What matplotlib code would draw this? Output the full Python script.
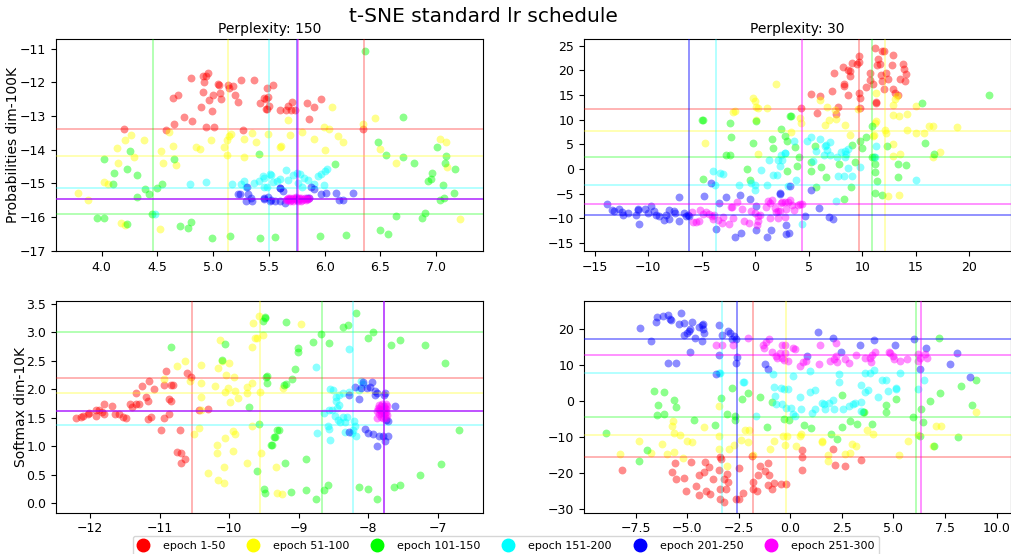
import matplotlib
matplotlib.use('Agg')
import matplotlib.pyplot as plt
from matplotlib.lines import Line2D
import numpy as np

# epoch groups and their colours
groups = ['epoch 1-50', 'epoch 51-100', 'epoch 101-150', 'epoch 151-200', 'epoch 201-250', 'epoch 251-300']
colors = ['red', 'yellow', 'lime', 'cyan', 'blue', 'magenta']

# ---- Perplexity 150, Probabilities dim-100K ----
p1_red = [(4.20, -13.38), (4.58, -13.41), (4.65, -13.25), (4.74, -13.02), (4.81, -13.14), (4.64, -12.46),
          (4.68, -12.38), (4.80, -11.86), (4.89, -12.72), (4.91, -11.82), (4.94, -11.80), (4.95, -11.72),
          (4.92, -12.00), (4.91, -12.28), (4.94, -13.34), (4.96, -12.53), (4.99, -12.86), (5.00, -12.37),
          (5.01, -13.33), (5.04, -12.04), (5.05, -12.08), (5.06, -12.31), (5.07, -12.49), (5.13, -12.07),
          (5.14, -12.17), (5.18, -12.10), (5.20, -12.37), (5.22, -12.58), (5.25, -11.92), (5.27, -13.41),
          (5.37, -11.93), (5.42, -12.61), (5.47, -12.49), (5.48, -12.78), (5.50, -12.70), (5.54, -12.07),
          (5.60, -12.81), (5.48, -12.17), (5.46, -12.47), (5.49, -12.45), (5.47, -12.79), (5.65, -12.81),
          (5.67, -12.71), (5.71, -12.57), (5.70, -12.81), (5.73, -12.82), (5.84, -12.61), (5.90, -12.72),
          (5.97, -12.50), (5.86, -13.09), (6.34, -13.37)]
p1_yellow = [(3.79, -15.27), (3.88, -15.50), (4.02, -14.97), (4.06, -15.01), (4.14, -13.95), (4.15, -14.39),
             (4.21, -13.70), (4.26, -13.55), (4.29, -14.22), (4.38, -13.70), (4.17, -16.16), (4.21, -16.23),
             (4.52, -16.35), (4.53, -14.05), (4.55, -14.38), (4.64, -13.88), (4.67, -14.44), (4.60, -13.46),
             (4.85, -13.92), (4.88, -13.97), (4.98, -13.70), (5.10, -13.93), (5.12, -13.70), (5.14, -13.60),
             (5.16, -13.52), (5.12, -14.16), (5.28, -13.68), (5.28, -14.22), (5.35, -13.50), (5.38, -13.77),
             (5.60, -13.92), (5.49, -13.53), (5.61, -13.90), (5.67, -13.11), (5.69, -13.55), (5.80, -13.48),
             (5.90, -13.67), (5.99, -13.34), (6.00, -14.01), (6.04, -13.39), (6.07, -12.74), (6.12, -13.58),
             (6.16, -13.77), (6.34, -13.23), (6.45, -13.06), (6.50, -13.97), (6.64, -14.40), (7.03, -13.68),
             (7.09, -13.76), (7.10, -14.52), (7.21, -16.05)]
p1_green = [(4.02, -14.27), (3.96, -16.03), (4.02, -16.01), (4.10, -15.02), (4.11, -14.69), (4.23, -14.57),
            (4.25, -14.05), (4.32, -14.76), (4.32, -15.41), (4.39, -15.16), (4.42, -15.31), (4.45, -15.89),
            (4.23, -16.21), (4.50, -15.12), (4.54, -15.02), (4.65, -14.28), (4.70, -16.25), (4.77, -16.32),
            (4.80, -16.14), (4.99, -16.61), (5.15, -16.57), (5.41, -14.13), (5.42, -16.62), (5.55, -16.59),
            (6.36, -11.08), (6.70, -13.04), (6.48, -13.77), (6.55, -14.17), (6.70, -14.21), (6.80, -14.38),
            (6.09, -14.43), (6.96, -14.69), (6.93, -14.94), (6.95, -14.87), (7.01, -13.92), (7.09, -14.18),
            (7.08, -14.40), (7.17, -14.57), (7.06, -15.04), (7.16, -15.29), (7.03, -15.49), (7.07, -15.44),
            (6.90, -15.86), (6.87, -16.03), (6.64, -15.96), (6.50, -16.39), (6.57, -16.50), (5.96, -16.55),
            (6.19, -16.52)]
p1_cyan = [(4.48, -15.90), (4.79, -15.01), (4.94, -14.95), (5.17, -15.02), (5.25, -15.02), (5.28, -14.92),
           (5.37, -14.99), (5.41, -14.94), (5.46, -14.84), (5.52, -14.74), (5.57, -14.94), (5.46, -15.09),
           (5.29, -15.09), (5.45, -14.79), (5.51, -14.72), (5.54, -14.95), (5.60, -14.86), (5.65, -14.59),
           (5.67, -14.89), (5.72, -14.76), (5.75, -14.69), (5.78, -14.71), (5.81, -14.84), (5.85, -14.91),
           (5.80, -15.09), (5.90, -15.01), (5.94, -14.79), (5.97, -14.72), (6.00, -14.64), (6.02, -14.56),
           (5.99, -15.05), (5.48, -15.09), (5.76, -14.99)]
p1_blue = [(5.22, -15.31), (5.24, -15.32), (5.30, -15.09), (5.31, -15.32), (5.34, -15.44), (5.29, -15.53),
           (5.35, -15.51), (5.46, -15.47), (5.49, -15.39), (5.52, -15.49), (5.55, -15.53), (5.60, -15.14),
           (5.46, -15.44), (5.51, -15.51), (5.60, -15.12), (5.63, -15.21), (5.60, -15.53), (5.64, -15.58),
           (5.88, -15.09), (5.90, -15.15), (5.97, -15.32), (6.01, -15.28), (6.10, -15.28), (6.13, -15.49),
           (6.16, -15.49), (6.25, -15.27), (5.84, -15.44), (5.86, -15.42)]
p1_magenta = [(5.65, -15.48), (5.66, -15.45), (5.67, -15.50), (5.68, -15.47), (5.69, -15.44), (5.70, -15.49),
              (5.71, -15.46), (5.72, -15.43), (5.72, -15.51), (5.73, -15.47), (5.74, -15.44), (5.75, -15.49),
              (5.76, -15.45), (5.76, -15.52), (5.77, -15.42), (5.78, -15.47), (5.79, -15.44), (5.80, -15.50),
              (5.81, -15.46), (5.82, -15.43), (5.83, -15.48), (5.84, -15.45), (5.85, -15.47), (5.69, -15.52),
              (5.74, -15.41), (5.79, -15.51), (5.67, -15.43), (5.86, -15.44)]
p1_mean_x = [6.35, 5.13, 4.46, 5.50, 5.75, 5.76]
p1_mean_y = [-13.38, -14.18, -15.91, -15.13, -15.46, -15.46]

# ---- Perplexity 30, Probabilities dim-100K ----
p2_red = [(5.18, 15.26), (6.02, 14.78), (4.27, 12.41), (5.80, 11.27), (7.14, 15.73), (7.33, 19.45),
          (7.74, 12.62), (7.58, 11.06), (8.20, 20.60), (8.30, 17.29), (8.30, 16.81), (8.67, 20.06),
          (8.83, 19.86), (8.89, 18.84), (8.67, 14.92), (9.05, 21.55), (9.55, 21.21), (9.71, 21.75),
          (9.67, 22.90), (9.67, 15.46), (9.83, 14.45), (9.77, 12.28), (10.33, 16.61), (10.77, 19.52),
          (10.77, 18.03), (11.02, 17.29), (11.17, 24.53), (11.48, 22.23), (11.39, 21.08), (11.64, 21.35),
          (11.89, 23.92), (12.01, 23.92), (11.80, 18.98), (11.89, 17.83), (12.20, 19.52), (12.42, 18.17),
          (12.01, 16.14), (12.83, 23.11), (12.79, 21.14), (12.89, 16.14), (13.04, 15.46), (13.36, 14.99),
          (13.51, 18.17), (13.82, 21.35), (13.89, 20.33), (14.05, 19.18), (13.98, 17.83), (11.26, 13.57),
          (11.33, 13.30)]
p2_yellow = [(1.94, 17.22), (-0.22, 14.31), (0.03, 13.77), (0.09, 12.62), (0.31, 12.41), (1.09, 12.28),
             (-2.09, 11.60), (-1.87, 11.67), (0.09, 9.91), (-4.65, 5.18), (0.28, 3.08), (3.37, 7.48),
             (6.02, 13.90), (6.74, 12.62), (7.49, 11.87), (6.90, 9.91), (6.55, 8.90), (8.39, 8.83),
             (8.83, 6.87), (7.58, 10.05), (9.61, 12.21), (11.08, 6.80), (11.33, 9.71), (11.23, 9.37),
             (12.14, 7.88), (12.20, 7.34), (11.33, 15.33), (12.83, 10.99), (13.45, 10.72), (13.04, 14.11),
             (13.26, 14.78), (12.89, 12.89), (14.23, 11.06), (14.23, 7.88), (15.01, 7.34), (15.07, 12.75),
             (15.76, 7.21), (16.23, 8.69), (16.63, 8.69), (18.88, 8.56), (17.26, 3.48), (16.57, 2.40),
             (12.89, 5.11), (12.89, 2.74), (13.51, 3.08), (12.45, -5.51), (13.45, -5.31), (11.02, 6.66),
             (4.15, 10.39), (4.31, 9.24)]
p2_green = [(-4.99, 9.91), (-4.90, 9.91), (-2.37, 9.24), (-2.28, 6.53), (-2.72, 2.94), (-2.34, 2.94),
            (-4.84, -2.06), (-0.78, 0.11), (-0.53, -2.32), (-0.22, 5.18), (0.09, 9.64), (1.59, 6.12),
            (1.66, 4.30), (2.43, 8.02), (2.75, 6.66), (3.00, 5.65), (3.00, -0.44), (3.21, 10.72),
            (3.37, 10.72), (3.74, 4.43), (4.09, 2.47), (3.90, 0.57), (5.62, 4.63), (5.24, 1.45),
            (5.24, -0.44), (6.11, 0.37), (6.65, -1.66), (5.71, -3.69), (7.83, 1.05), (8.30, -6.06),
            (8.99, -3.62), (9.08, 4.97), (9.30, 1.52), (9.77, 5.65), (9.98, 4.30), (10.33, 6.46),
            (10.95, 8.69), (10.92, 2.47), (11.11, 2.40), (11.17, 1.05), (11.23, -0.64), (11.42, -2.47),
            (11.20, -4.84), (11.89, -5.31), (12.33, 4.77), (13.36, 1.12), (14.05, 0.91), (13.36, -1.66),
            (15.63, 13.30), (15.91, 5.31), (16.70, 3.15), (21.85, 15.05)]
p2_cyan = [(-3.90, -0.30), (-3.25, -0.84), (-3.03, -0.98), (-3.75, -3.28), (-1.53, -3.15), (-0.37, -2.88),
           (0.00, -3.15), (0.00, -4.16), (0.50, -0.10), (1.09, -3.28), (1.28, 1.79), (1.66, -1.25),
           (2.03, -1.25), (2.12, 1.79), (2.28, 0.57), (2.43, 2.94), (2.53, 1.93), (2.81, 3.28),
           (3.06, -3.35), (2.74, 3.28), (3.62, 5.78), (3.77, -2.13), (4.84, 5.78), (5.24, 6.46),
           (6.08, 5.99), (5.65, 3.62), (6.49, 4.63), (6.96, 5.51), (6.58, 4.97), (6.71, 3.96),
           (6.40, 2.81), (7.02, 2.81), (7.65, 2.47), (8.05, 3.42), (8.36, 3.62), (8.67, 4.16),
           (8.52, 3.15), (8.42, 2.47), (8.67, 0.24), (9.08, -1.45), (8.30, -1.45), (7.74, -1.32),
           (9.77, 0.37), (11.26, 4.77), (11.20, 2.40), (7.58, -6.39), (4.40, -11.13), (15.07, -2.13),
           (5.40, 1.59)]
p2_blue = [(-13.80, -7.14), (-13.39, -8.22), (-13.17, -8.42), (-12.70, -8.02), (-12.45, -8.69), (-12.39, -9.24),
           (-11.92, -8.83), (-11.14, -9.24), (-10.99, -8.36), (-10.99, -8.09), (-10.83, -11.06), (-10.30, -8.09),
           (-10.05, -8.90), (-9.74, -7.54), (-9.43, -8.42), (-9.27, -9.24), (-8.96, -9.58), (-8.49, -10.25),
           (-8.33, -9.24), (-8.08, -8.22), (-8.02, -10.05), (-7.55, -8.42), (-7.46, -8.90), (-7.08, -5.72),
           (-7.08, -10.45), (-6.62, -8.90), (-6.46, -9.44), (-6.30, -9.24), (-6.15, -9.58), (-4.81, -5.51),
           (-4.12, -2.81), (-3.65, -12.08), (-3.34, -6.87), (-2.72, -5.65), (-1.84, -13.77), (-1.40, -5.24),
           (-1.31, -12.96), (-0.47, -5.99), (0.09, -12.28), (0.09, -7.54), (1.12, -13.77), (1.50, -12.42),
           (2.28, -4.97), (2.90, -13.16), (3.21, -3.35), (2.34, -4.84), (5.24, -4.30), (5.96, -7.88),
           (4.62, -9.58), (6.90, -9.71), (7.27, -10.05), (2.90, -11.40), (3.15, -12.96)]
p2_magenta = [(-5.93, -8.76), (-5.84, -10.79), (-5.52, -10.79), (-5.21, -10.59), (-5.12, -8.22), (-4.90, -9.03),
              (-4.59, -8.76), (-4.34, -9.10), (-4.03, -9.44), (-3.90, -10.05), (-3.81, -9.24), (-3.50, -10.25),
              (-3.12, -10.93), (-2.97, -9.78), (-2.40, -11.06), (-2.28, -7.75), (-2.12, -7.75), (-2.06, -9.91),
              (-1.72, -6.73), (-1.22, -8.02), (-1.00, -10.59), (-0.62, -10.93), (-0.37, -8.56), (0.03, -8.90),
              (0.16, -11.27), (0.31, -10.45), (0.47, -9.24), (0.31, -9.58), (1.03, -7.68), (1.19, -6.53),
              (1.40, -6.87), (1.56, -6.19), (1.81, -7.88), (1.90, -8.76), (2.12, -8.56), (2.43, -6.87),
              (2.53, -6.73), (1.40, -9.91), (2.12, -9.91), (3.06, -6.73), (2.74, -6.73), (3.21, -6.19),
              (3.43, -7.21), (3.62, -8.22), (4.00, -7.21), (4.21, -7.00), (4.40, -7.07), (2.90, -8.09),
              (2.74, -9.78), (2.28, -8.56)]
p2_mean_x = [9.7, 12.1, 10.9, -3.7, -6.2, 4.4]
p2_mean_y = [12.08, 7.61, 2.54, -3.28, -9.37, -7.14]

# ---- Perplexity 150, Softmax dim-10K ----
p3_red = [(-12.20, 1.50), (-12.13, 1.52), (-12.10, 1.53), (-12.03, 1.57), (-12.02, 1.58), (-11.91, 1.53),
          (-11.91, 1.63), (-11.87, 1.63), (-11.83, 1.60), (-11.80, 1.57), (-11.80, 1.74), (-11.68, 1.71),
          (-11.64, 1.57), (-11.58, 1.57), (-11.52, 1.52), (-11.49, 1.50), (-11.43, 1.74), (-11.40, 1.69),
          (-11.34, 1.93), (-11.34, 1.74), (-11.30, 1.74), (-11.25, 2.06), (-11.20, 1.86), (-11.15, 2.14),
          (-11.16, 1.80), (-11.17, 1.48), (-11.12, 1.52), (-11.08, 2.01), (-10.98, 1.29), (-10.93, 1.49),
          (-10.93, 2.07), (-10.91, 2.32), (-10.87, 1.56), (-10.86, 1.83), (-10.83, 1.80), (-10.84, 2.07),
          (-10.81, 2.07), (-10.75, 0.90), (-10.69, 0.89), (-10.69, 0.70), (-10.70, 1.29), (-10.63, 0.77),
          (-10.60, 2.29), (-10.55, 2.21), (-10.30, 1.65), (-10.44, 1.63)]
p3_yellow = [(-10.94, 2.18), (-10.75, 2.41), (-10.64, 2.50), (-10.56, 2.15), (-10.51, 1.21), (-10.41, 1.63),
             (-10.40, 2.43), (-10.41, 1.86), (-10.43, 1.33), (-10.40, 2.12), (-10.31, 0.53), (-10.20, 2.06),
             (-10.18, 1.02), (-10.17, 0.88), (-10.16, 2.37), (-10.13, 2.86), (-10.10, 2.50), (-10.08, 0.64),
             (-10.07, 0.36), (-10.16, 0.41), (-10.06, 1.14), (-10.05, 2.25), (-10.02, 2.02), (-10.06, 1.95),
             (-10.00, 2.46), (-9.99, 1.78), (-9.95, 0.91), (-9.95, 1.27), (-9.93, 2.21), (-9.92, 1.22),
             (-9.91, 1.97), (-9.87, 1.85), (-9.75, 2.04), (-9.74, 1.93), (-9.74, 0.71), (-9.67, 2.12),
             (-9.67, 1.36), (-9.67, 2.75), (-9.66, 3.17), (-9.63, 2.90), (-9.60, 2.91), (-9.57, 3.28),
             (-9.56, 1.96), (-9.54, 0.88), (-9.51, 2.95), (-9.33, 0.64), (-9.31, 0.18), (-9.23, 2.03),
             (-8.97, 3.14), (-9.24, 0.16)]
p3_green = [(-10.84, 2.74), (-10.10, 2.52), (-10.06, 2.79), (-9.72, 1.69), (-9.60, 0.57), (-9.57, 1.40),
            (-9.52, 3.20), (-9.49, 3.25), (-9.48, 3.27), (-9.46, 2.24), (-9.45, 2.11), (-9.50, 0.25),
            (-9.48, 0.18), (-9.40, 1.02), (-9.36, 1.17), (-9.31, 1.28), (-9.18, 3.19), (-8.68, 2.97),
            (-8.80, 2.83), (-8.57, 2.81), (-9.01, 2.72), (-9.01, 2.66), (-9.06, 2.35), (-9.09, 2.19),
            (-9.18, 2.09), (-9.21, 2.08), (-9.47, 2.21), (-9.28, 1.28), (-9.34, 1.17), (-9.39, 1.02),
            (-9.19, 0.70), (-8.90, 0.78), (-9.11, 0.20), (-8.90, 0.23), (-8.75, 0.08), (-8.64, 0.23),
            (-8.58, 0.32), (-8.37, 3.10), (-8.29, 3.13), (-8.17, 3.34), (-8.01, 2.90), (-7.93, 3.00),
            (-7.68, 2.78), (-7.55, 2.87), (-7.19, 2.78), (-6.90, 2.46), (-6.69, 1.29), (-6.95, 0.69),
            (-7.26, 0.50), (-7.63, 0.29), (-7.55, 0.33), (-8.13, 0.29), (-8.00, 0.25), (-7.88, 0.07)]
p3_cyan = [(-8.27, 2.71), (-8.75, 2.40), (-8.55, 2.01), (-8.50, 1.99), (-8.46, 1.87), (-8.42, 1.91),
           (-8.37, 1.93), (-8.28, 1.96), (-8.47, 1.80), (-8.42, 1.73), (-8.45, 1.67), (-8.57, 1.64),
           (-8.63, 1.59), (-8.52, 1.63), (-8.48, 1.54), (-8.44, 1.46), (-8.41, 1.43), (-8.37, 1.52),
           (-8.31, 1.52), (-8.33, 1.42), (-8.20, 1.45), (-8.19, 1.36), (-8.22, 1.29), (-8.34, 1.25),
           (-8.24, 1.23), (-8.18, 1.19), (-8.58, 1.36), (-8.56, 1.30), (-8.73, 1.24), (-8.55, 1.12),
           (-8.11, 2.15), (-8.08, 2.09), (-8.13, 1.99)]
p3_blue = [(-8.19, 2.04), (-8.11, 2.02), (-8.07, 2.13), (-8.02, 2.03), (-7.94, 2.13), (-7.97, 2.05),
           (-7.90, 1.98), (-7.88, 1.93), (-7.91, 1.90), (-7.78, 1.91), (-7.76, 1.93), (-8.27, 1.90),
           (-8.14, 1.83), (-7.61, 1.70), (-7.72, 1.45), (-7.75, 1.46), (-8.28, 1.26), (-8.04, 1.30),
           (-8.01, 1.24), (-7.93, 1.22), (-7.84, 1.18), (-7.79, 1.18), (-7.72, 1.18), (-7.76, 1.09),
           (-7.87, 1.01)]
p3_magenta = [(-7.88, 1.62), (-7.86, 1.68), (-7.85, 1.56), (-7.84, 1.72), (-7.83, 1.64), (-7.82, 1.58),
              (-7.81, 1.70), (-7.80, 1.75), (-7.80, 1.60), (-7.79, 1.66), (-7.78, 1.53), (-7.78, 1.71),
              (-7.77, 1.63), (-7.76, 1.68), (-7.76, 1.57), (-7.75, 1.74), (-7.75, 1.61), (-7.74, 1.65),
              (-7.73, 1.55), (-7.73, 1.70), (-7.82, 1.52), (-7.87, 1.50), (-7.79, 1.49), (-7.84, 1.66),
              (-7.77, 1.59), (-7.81, 1.63), (-7.74, 1.50)]
p3_mean_x = [-10.53, -9.56, -8.67, -8.22, -7.78, -7.78]
p3_mean_y = [2.20, 1.94, 3.00, 1.37, 1.62, 1.62]

# ---- Perplexity 30, Softmax dim-10K ----
p4_red = [(-8.16, -19.17), (-5.58, -17.13), (-5.73, -19.72), (-5.56, -21.48), (-5.13, -21.30), (-5.05, -24.81),
          (-4.81, -16.85), (-4.56, -23.61), (-4.44, -20.37), (-4.40, -26.11), (-4.16, -19.72), (-4.11, -16.85),
          (-4.08, -24.81), (-3.92, -18.33), (-3.87, -25.74), (-3.76, -21.48), (-3.44, -18.98), (-3.39, -15.56),
          (-3.35, -15.93), (-3.39, -24.26), (-3.39, -27.13), (-3.23, -27.96), (-3.19, -21.48), (-3.11, -24.26),
          (-3.06, -20.19), (-3.00, -22.50), (-2.63, -27.13), (-2.47, -27.13), (-2.47, -18.52), (-2.27, -25.46),
          (-1.85, -15.28), (-1.82, -22.50), (-1.79, -24.35), (-1.60, -24.81), (-1.58, -20.37), (-1.45, -18.06),
          (-1.23, -19.44), (-1.10, -17.13), (-1.10, -23.33), (-1.02, -20.37), (-0.90, -24.26), (-0.77, -22.68),
          (-0.45, -22.87), (-0.20, -22.96), (0.58, -13.43), (0.58, -15.56), (0.58, -18.98), (2.05, -13.24),
          (2.15, -17.78), (2.65, -18.06), (3.41, -16.20)]
p4_yellow = [(-7.34, -10.93), (-8.27, -14.54), (-6.74, -14.35), (-6.21, -11.76), (-5.97, -14.54), (-5.74, -6.76),
             (-5.69, -5.56), (-5.65, -8.80), (-5.61, -14.17), (-5.34, -9.44), (-5.21, -15.74), (-5.02, -11.11),
             (-4.77, -11.39), (-4.19, -7.22), (-3.47, -1.39), (-3.47, -9.54), (-3.44, -13.24), (-3.08, -18.06),
             (-2.95, -13.24), (-2.74, -12.04), (-2.39, -10.65), (-2.18, -7.87), (-1.98, -8.06), (-2.03, -11.30),
             (-1.82, -15.00), (-0.98, -13.24), (-0.81, -10.93), (-0.37, -9.54), (-0.15, -9.54), (-0.27, -12.22),
             (0.27, -12.31), (0.45, -9.72), (0.53, -8.98), (1.52, -11.30), (1.56, -10.93), (1.85, -15.00),
             (1.85, -16.67), (2.65, -14.54), (2.91, -14.35), (2.98, -11.85), (3.18, -12.50), (3.71, -7.87),
             (4.00, -9.07), (5.27, -15.00), (5.71, -10.93), (6.18, -9.44), (7.05, -6.76), (7.30, -6.76),
             (6.92, -12.50), (9.02, -2.96)]
p4_green = [(-8.95, -8.80), (-7.31, -16.48), (-6.94, -13.43), (-6.61, 2.78), (-6.42, -1.20), (-6.45, -3.89),
            (-6.13, -3.70), (-6.10, 2.59), (-5.65, 0.28), (-5.53, -1.57), (-4.68, -5.09), (-3.63, -6.48),
            (-3.35, 0.93), (-3.08, -3.43), (-2.84, 3.52), (-2.68, -4.17), (-2.66, -5.09), (-2.35, 0.46),
            (-2.03, 2.13), (-1.47, 1.11), (-1.13, -7.22), (-0.89, -0.19), (-0.32, -4.91), (-0.08, -5.09),
            (0.68, -6.48), (1.02, -7.41), (1.97, -9.07), (2.27, -10.46), (2.50, -7.22), (2.53, 1.57),
            (2.92, -5.37), (3.26, -6.20), (3.52, -2.96), (3.59, -3.06), (3.94, -6.20), (4.65, -1.20),
            (4.62, -3.06), (5.12, 0.46), (5.94, -4.44), (6.33, -2.31), (6.44, -5.74), (6.29, -9.72),
            (6.79, 0.00), (7.27, 2.13), (7.20, 17.41), (6.97, -12.50), (8.11, -9.91), (8.29, 4.17),
            (8.79, -1.11), (8.98, 5.83)]
p4_cyan = [(-3.44, 7.69), (-3.39, 7.87), (-1.66, -4.17), (-2.31, 5.37), (-2.23, 5.28), (-0.85, 7.41),
           (-0.81, 3.89), (-0.76, 1.39), (-0.68, -0.93), (-0.32, 3.24), (-0.19, -1.85), (-0.45, 3.70),
           (-0.12, 3.24), (-0.38, -0.93), (0.03, -1.85), (0.12, -3.70), (0.23, -4.17), (0.15, 6.94),
           (0.98, 8.43), (0.45, 1.20), (0.53, -2.13), (0.95, 2.59), (1.21, 3.06), (1.06, -3.24),
           (1.18, -2.31), (1.56, -0.46), (1.62, -0.93), (1.67, -2.31), (1.89, -0.46), (2.05, 0.28),
           (2.12, -2.31), (2.35, 7.59), (2.35, 5.28), (2.58, -2.13), (2.85, -1.39), (3.06, -0.93),
           (3.14, -0.46), (3.41, -0.19), (3.45, 4.35), (3.61, 2.50), (3.79, 2.96), (3.45, -2.78),
           (3.64, 7.87), (3.86, 7.87), (4.06, 8.61), (4.24, 1.20), (4.47, 5.83), (4.62, 5.83),
           (4.73, 2.78), (5.12, 3.70), (5.15, 3.24), (5.30, 7.69), (6.21, 3.43), (6.47, 5.83)]
p4_blue = [(-7.26, 20.19), (-6.74, 16.67), (-6.50, 22.04), (-6.47, 23.24), (-6.18, 23.61), (-5.94, 23.89),
           (-5.85, 22.69), (-5.77, 22.50), (-5.94, 10.46), (-5.53, 10.65), (-5.40, 21.30), (-5.29, 24.54),
           (-5.13, 21.57), (-5.13, 18.24), (-5.00, 18.80), (-4.92, 19.44), (-4.84, 19.91), (-4.76, 22.04),
           (-4.85, 13.70), (-4.60, 17.59), (-4.44, 20.65), (-4.29, 21.02), (-4.24, 19.91), (-4.27, 16.67),
           (-4.19, 18.98), (-4.21, 21.30), (-3.60, 7.59), (-3.44, 21.02), (-3.44, 12.69), (-3.32, 18.33),
           (-3.03, 19.44), (-2.92, 18.80), (-2.82, 17.13), (-2.71, 18.06), (-2.63, 17.31), (-2.63, 10.46),
           (-2.56, 12.22), (-1.23, 10.37), (-1.06, 8.80), (1.36, 19.26), (2.09, 17.41), (0.80, 12.50),
           (2.47, 13.70), (3.36, 15.46), (4.06, 16.94), (5.08, 15.46), (6.02, 17.31), (6.29, 8.80),
           (6.59, 14.63), (7.73, 10.37), (8.08, 13.43), (8.71, 6.76)]
p4_magenta = [(-3.60, 15.56), (-3.31, 15.56), (-2.77, 15.56), (-2.03, 17.59), (-1.31, 15.46), (-1.26, 14.63),
              (-1.02, 17.31), (-1.18, 16.48), (-0.89, 13.61), (-0.69, 12.50), (-0.66, 11.85), (-0.50, 13.43),
              (-0.40, 15.56), (-0.32, 11.30), (-0.23, 15.46), (-0.27, 13.43), (-0.38, 11.85), (-0.12, 11.11),
              (0.15, 14.63), (0.23, 14.35), (0.48, 9.72), (0.61, 10.83), (0.76, 11.11), (1.44, 15.56),
              (1.41, 10.19), (1.94, 11.11), (2.12, 11.57), (2.23, 16.02), (2.20, 12.50), (2.27, 10.93),
              (2.65, 11.57), (2.85, 10.46), (3.18, 12.69), (3.64, 12.04), (3.86, 12.04), (3.91, 10.93),
              (4.09, 13.61), (3.97, 12.78), (4.77, 13.61), (4.85, 13.24), (4.97, 12.50), (5.03, 11.57),
              (5.33, 11.11), (5.65, 11.57), (6.18, 13.15), (6.21, 11.11), (6.29, 12.04), (6.52, 13.15),
              (6.64, 11.85)]
p4_mean_x = [-1.8, -0.2, 6.1, -3.3, -2.6, 6.35]
p4_mean_y = [-15.5, -9.5, -4.4, 7.7, 17.1, 12.7]

fig = plt.figure(figsize=(10.12, 5.54), dpi=100)
fig.suptitle('t-SNE standard lr schedule', fontsize=14.5, x=0.478, y=0.987, va='top')

panels = [
    dict(pos=[0.0553, 0.547, 0.422, 0.383], pts=[p1_red, p1_yellow, p1_green, p1_cyan, p1_blue, p1_magenta],
         mx=p1_mean_x, my=p1_mean_y, xlim=(3.59, 7.42), ylim=(-17.0, -10.71),
         xt=np.arange(4.0, 7.01, 0.5), yt=np.arange(-17, -10.9, 1), title='Perplexity: 150',
         ylabel='Probabilities dim-100K', lpad=0.0, xfmt='%.1f', yfmt='%d'),
    dict(pos=[0.577, 0.547, 0.422, 0.383], pts=[p2_red, p2_yellow, p2_green, p2_cyan, p2_blue, p2_magenta],
         mx=p2_mean_x, my=p2_mean_y, xlim=(-16.0, 23.9), ylim=(-16.6, 26.4),
         xt=np.arange(-15, 21, 5), yt=np.arange(-15, 26, 5), title='Perplexity: 30',
         ylabel=None, lpad=0, xfmt='%d', yfmt='%d'),
    dict(pos=[0.0553, 0.0745, 0.422, 0.382], pts=[p3_red, p3_yellow, p3_green, p3_cyan, p3_blue, p3_magenta],
         mx=p3_mean_x, my=p3_mean_y, xlim=(-12.49, -6.35), ylim=(-0.165, 3.55),
         xt=np.arange(-12, -6.9, 1), yt=np.arange(0, 3.51, 0.5), title=None,
         ylabel='Softmax dim-10K', lpad=-1.0, xfmt='%d', yfmt='%.1f'),
    dict(pos=[0.577, 0.0745, 0.422, 0.382], pts=[p4_red, p4_yellow, p4_green, p4_cyan, p4_blue, p4_magenta],
         mx=p4_mean_x, my=p4_mean_y, xlim=(-10.0, 10.7), ylim=(-30.9, 27.7),
         xt=np.arange(-7.5, 10.1, 2.5), yt=np.arange(-30, 21, 10), title=None,
         ylabel=None, lpad=0, xfmt='%.1f', yfmt='%d'),
]

for p in panels:
    ax = fig.add_axes(p['pos'])
    for pts, c in zip(p['pts'], colors):
        arr = np.array(pts)
        ax.scatter(arr[:, 0], arr[:, 1], s=32, color=c, alpha=0.45, linewidths=0, zorder=2)
    for c, mx, my in zip(colors, p['mx'], p['my']):
        a = 0.5 if c in ('blue', 'magenta') else 0.35
        ax.axvline(mx, color=c, alpha=a, linewidth=1.2, zorder=3)
        ax.axhline(my, color=c, alpha=a, linewidth=1.2, zorder=3)
    ax.set_xlim(*p['xlim'])
    ax.set_ylim(*p['ylim'])
    ax.set_xticks(p['xt'])
    ax.set_yticks(p['yt'])
    ax.set_xticklabels([(p['xfmt'] % v).replace('-', '\u2212') for v in p['xt']])
    ax.set_yticklabels([(p['yfmt'] % v).replace('-', '\u2212') for v in p['yt']])
    ax.tick_params(labelsize=9)
    if p['title']:
        ax.set_title(p['title'], fontsize=10, pad=4)
    if p['ylabel']:
        ax.set_ylabel(p['ylabel'], fontsize=10, labelpad=p['lpad'])

handles = [Line2D([], [], marker='o', linestyle='none', markersize=9, color=c) for c in colors]
fig.legend(handles, groups, loc='lower center', ncol=6, fontsize=8, bbox_to_anchor=(0.5, -0.012),
           frameon=True, handlelength=1.0, handletextpad=1.3, columnspacing=2.0, borderpad=0.4)

fig.savefig('out.png', dpi=100)
